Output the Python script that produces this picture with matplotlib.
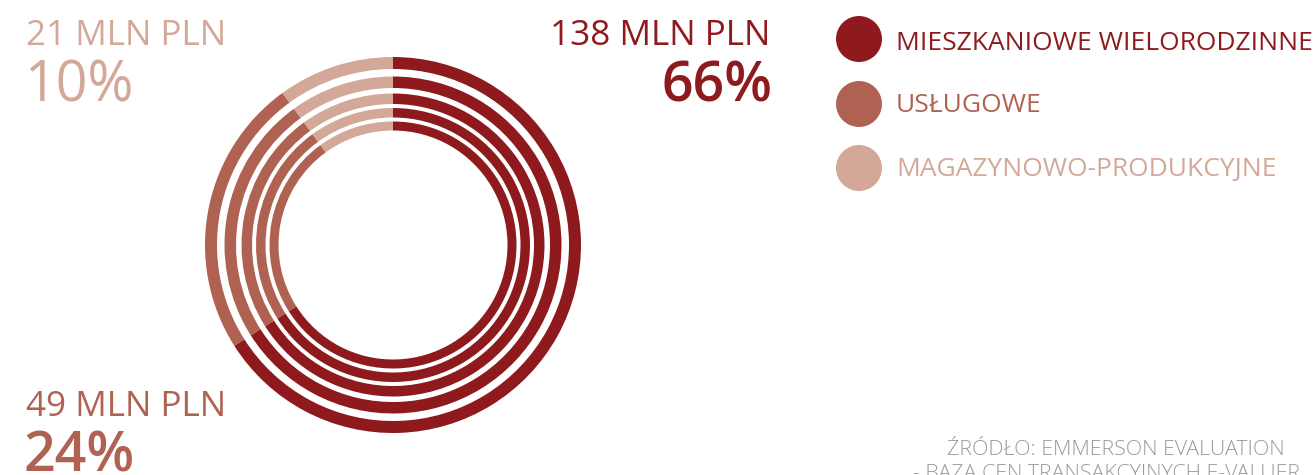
import matplotlib.pyplot as plt
import matplotlib.patches as patches

# data
categories = ['MIESZKANIOWE WIELORODZINNE', 'USŁUGOWE', 'MAGAZYNOWO-PRODUKCYJNE']
shares = [66, 24, 10]
amounts = [138, 49, 21]
colors = ['#8E1A1E', '#AF6252', '#D4A898']

# ring radii in pixels (outer, width), outermost first
ring_outer = [188, 168.5, 151.5, 137, 123.5]
ring_width = [12, 11.5, 10.5, 9.5, 9]

W, H = 1316, 475
fig = plt.figure(figsize=(W / 100, H / 100), dpi=100)
ax = fig.add_axes([0, 0, 1, 1])

cx, cy = 393, H - 245
for r, w in zip(ring_outer, ring_width):
    ax.pie(shares, colors=colors, radius=r, center=(cx, cy), startangle=90,
           counterclock=False, wedgeprops=dict(width=w, linewidth=0))

ax.set_xlim(0, W)
ax.set_ylim(0, H)
ax.set_aspect('equal')
ax.axis('off')

font = 'Open Sans'

# value labels
ax.text(26, H - 45, f'{amounts[2]} MLN PLN', color=colors[2], fontsize=25.3,
        family=font, ha='left', va='baseline')
ax.text(24, H - 102, f'{shares[2]}%', color=colors[2], fontsize=40,
        family=font, ha='left', va='baseline')
ax.text(770, H - 45, f'{amounts[0]} MLN PLN', color=colors[0], fontsize=25.3,
        family=font, ha='right', va='baseline')
ax.text(772, H - 102, f'{shares[0]}%', color=colors[0], fontsize=40,
        family=font, weight='semibold', ha='right', va='baseline')
ax.text(26, H - 416, f'{amounts[1]} MLN PLN', color=colors[1], fontsize=25.3,
        family=font, ha='left', va='baseline')
ax.text(24, H - 472, f'{shares[1]}%', color=colors[1], fontsize=40,
        family=font, weight='semibold', ha='left', va='baseline')

# legend
leg_y = [39, 104, 168]
base_y = [50, 112, 176]
for lab, c, yc, yb in zip(categories, colors, leg_y, base_y):
    ax.add_patch(patches.Circle((859, H - yc), 23, color=c, linewidth=0))
    ax.text(896, H - yb, lab, color=c, fontsize=19, family=font,
            ha='left', va='baseline')

# source
ax.text(1285, H - 455, 'ŹRÓDŁO: EMMERSON EVALUATION', color='#9A9A9A',
        fontsize=15.4, family=font, weight='light', ha='right', va='baseline')
ax.text(1300, H - 478, '- BAZA CEN TRANSAKCYJNYCH E-VALUER', color='#9A9A9A',
        fontsize=15.4, family=font, weight='light', ha='right', va='baseline')

fig.savefig('out.png', dpi=100)
